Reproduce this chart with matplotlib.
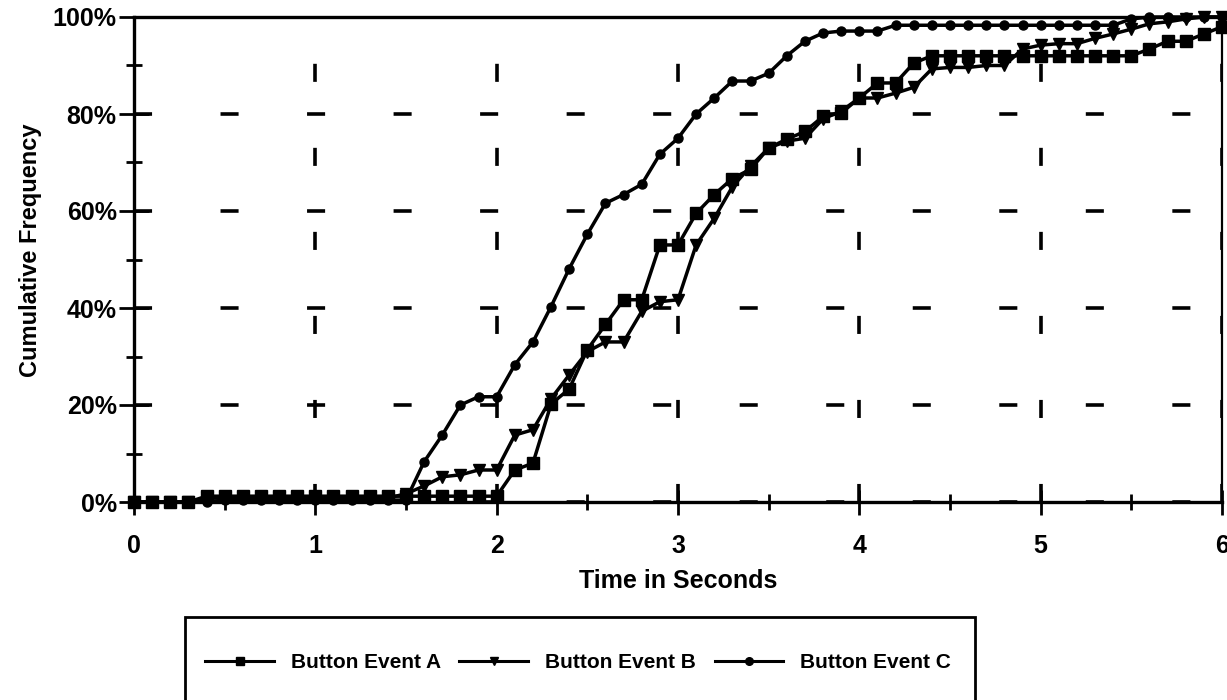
import matplotlib
matplotlib.use('Agg')
import matplotlib.pyplot as plt
from matplotlib.lines import Line2D
from matplotlib.patches import Rectangle
from matplotlib.ticker import MultipleLocator, FuncFormatter

plt.rcParams['font.family'] = ['Liberation Sans', 'DejaVu Sans']
plt.rcParams['lines.scale_dashes'] = False

# 时间 (秒)
time_s = [0.0, 0.1, 0.2, 0.3, 0.4, 0.5, 0.6, 0.7, 0.8, 0.9,
          1.0, 1.1, 1.2, 1.3, 1.4, 1.5, 1.6, 1.7, 1.8, 1.9,
          2.0, 2.1, 2.2, 2.3, 2.4, 2.5, 2.6, 2.7, 2.8, 2.9,
          3.0, 3.1, 3.2, 3.3, 3.4, 3.5, 3.6, 3.7, 3.8, 3.9,
          4.0, 4.1, 4.2, 4.3, 4.4, 4.5, 4.6, 4.7, 4.8, 4.9,
          5.0, 5.1, 5.2, 5.3, 5.4, 5.5, 5.6, 5.7, 5.8, 5.9,
          6.0]

# 累计频率 (%)
event_a = [0, 0, 0, 0, 1.2, 1.2, 1.2, 1.2, 1.2, 1.2,
           1.2, 1.2, 1.2, 1.2, 1.2, 1.2, 1.2, 1.2, 1.2, 1.2,
           1.2, 6.6, 8.0, 20.2, 23.3, 31.4, 36.6, 41.7, 41.7, 53.0,
           53.0, 59.5, 63.4, 66.7, 68.6, 73.0, 74.8, 76.4, 79.5, 80.2,
           83.3, 86.4, 86.4, 90.5, 92.0, 92.0, 92.0, 92.0, 92.0, 92.0,
           92.0, 92.0, 92.0, 92.0, 92.0, 92.0, 93.4, 95.0, 95.0, 96.5,
           98.0]
event_b = [0, 0, 0, 0, 0.8, 0.8, 0.8, 0.8, 0.8, 0.8,
           0.8, 0.8, 0.8, 0.8, 0.8, 1.7, 3.3, 5.2, 5.6, 6.6,
           6.6, 13.8, 14.9, 21.3, 26.2, 31.0, 33.0, 33.0, 39.3, 41.3,
           41.7, 53.0, 58.5, 65.0, 69.2, 73.0, 74.4, 75.0, 79.0, 80.6,
           83.3, 83.3, 84.3, 85.5, 89.3, 89.6, 89.6, 90.0, 90.0, 93.4,
           94.2, 94.5, 94.5, 95.6, 96.5, 97.5, 98.6, 99.0, 99.6, 100,
           100]
event_c = [0, 0, 0, 0, 0, 0.4, 0.4, 0.4, 0.4, 0.4,
           0.4, 0.4, 0.4, 0.4, 0.4, 0.4, 8.3, 13.8, 20.0, 21.7,
           21.7, 28.3, 33.0, 40.3, 48.1, 55.2, 61.6, 63.4, 65.5, 71.7,
           75.0, 80.0, 83.3, 86.8, 86.8, 88.4, 92.0, 95.0, 96.7, 97.1,
           97.1, 97.1, 98.3, 98.3, 98.3, 98.3, 98.3, 98.3, 98.3, 98.3,
           98.3, 98.3, 98.3, 98.3, 98.3, 99.6, 100, 100, 100, 100,
           100]

labels = ['Button Event A', 'Button Event B', 'Button Event C']
markers = ['s', 'v', 'o']
msizes = [8.5, 8, 6.5]

fig = plt.figure(figsize=(12.27, 7.0), dpi=100)
ax = fig.add_axes([134 / 1227, 1 - 502 / 700, 1088 / 1227, 485 / 700])

for y, m, ms in zip([event_a, event_b, event_c], markers, msizes):
    ax.plot(time_s, y, color='black', lw=2.5, marker=m, ms=ms,
            clip_on=False, zorder=3)

ax.set_xlim(0, 6)
ax.set_ylim(0, 100)
ax.xaxis.set_major_locator(MultipleLocator(1))
ax.xaxis.set_minor_locator(MultipleLocator(0.5))
ax.yaxis.set_major_locator(MultipleLocator(20))
ax.yaxis.set_minor_locator(MultipleLocator(10))
ax.yaxis.set_major_formatter(FuncFormatter(lambda v, p: '%d%%' % v))

# 网格 (稀疏虚线)
ax.grid(axis='y', which='major', color='black', lw=2.6,
        linestyle=(0, (13, 49.3)))
ax.grid(axis='x', which='major', color='black', lw=2.6,
        linestyle=(0, (13, 47.5)))
ax.set_axisbelow(True)

for s in ax.spines.values():
    s.set_linewidth(2.4)
ax.spines['right'].set_linewidth(1.6)

ax.tick_params(axis='x', which='major', direction='inout', length=18,
               width=2.0, pad=14, labelsize=18)
ax.tick_params(axis='x', which='minor', direction='inout', length=12,
               width=2.0)
ax.tick_params(axis='y', which='major', direction='inout', length=21,
               width=2.0, pad=2, labelsize=18)
ax.tick_params(axis='y', which='minor', direction='inout', length=11,
               width=2.0)
for t in ax.get_xticklabels() + ax.get_yticklabels():
    t.set_fontweight('bold')

ax.set_xlabel('Time in Seconds', fontsize=18, fontweight='bold', labelpad=8)
ax.set_ylabel('Cumulative Frequency', fontsize=17, fontweight='bold')
ax.yaxis.set_label_coords(-92 / 1088, 0.52)

# 图例
fig.patches.append(Rectangle((185 / 1227, -0.05), (975 - 185) / 1227,
                             (700 - 617) / 700 + 0.05,
                             transform=fig.transFigure, fill=False,
                             edgecolor='black', lw=2.0))
handles = [Line2D([], [], color='black', lw=2.2, marker=m, ms=5.5)
           for m in markers]
leg = fig.legend(handles, labels, loc='center', ncol=3,
                 bbox_to_anchor=(578 / 1227, 1 - 663 / 700), frameon=False,
                 prop={'size': 15, 'weight': 'bold'}, handlelength=3.3,
                 handletextpad=0.8, columnspacing=0.9)

plt.savefig('out.png', dpi=100)
